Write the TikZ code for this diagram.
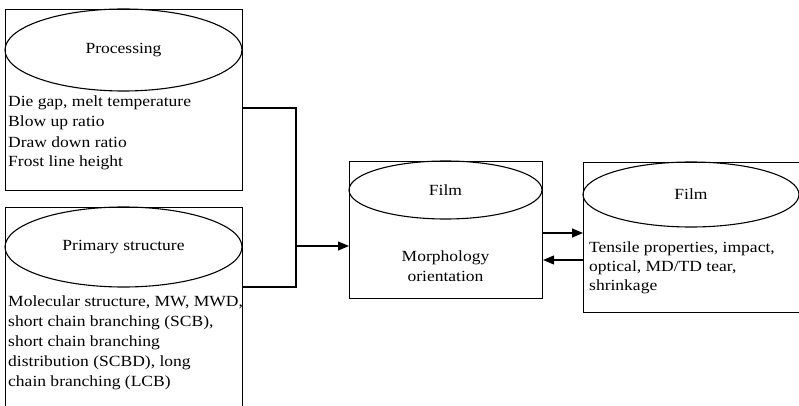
\documentclass[tikz,border=0pt]{standalone}
\usepackage{fontspec}
\setmainfont{Liberation Serif}
\newfontfamily\timesf[FakeStretch=1.13]{Liberation Serif}
\usetikzlibrary{arrows.meta,shapes.geometric}
\begin{document}
\begin{tikzpicture}[x=1pt,y=-1pt,
  box/.style={draw,line width=1.1pt,rectangle,inner sep=0pt,anchor=north west},
  ell/.style={draw,line width=1.1pt,ellipse,inner sep=0pt,anchor=center,font=\timesf\fontsize{15.5}{18}\selectfont},
  txt/.style={align=left,anchor=base west,inner sep=0pt,font=\timesf\fontsize{15.5}{20}\selectfont},
  conn/.style={line width=1.1pt},
  arr/.style={line width=1.1pt,-{Triangle[length=11pt,width=9pt]}}]
\clip (0,0) rectangle (799,406);
\fill[white] (0,0) rectangle (799,406);
% boxes
\node[box,minimum width=237pt,minimum height=181pt] (box1) at (5,9) {};
\node[box,minimum width=237pt,minimum height=230pt] (box2) at (5,207) {};
\node[box,minimum width=193pt,minimum height=137pt] (box3) at (349,161) {};
\node[box,minimum width=230pt,minimum height=150pt] (box4) at (583,162) {};
% ellipses
\node[ell,minimum width=237pt,minimum height=82pt] (e1) at (123.5,50) {Processing};
\node[ell,minimum width=237pt,minimum height=80pt] (e2) at (123.5,247) {Primary structure};
\node[ell,minimum width=193pt,minimum height=58pt] (e3) at (445.5,190) {Film};
\node[ell,minimum width=216pt,minimum height=65pt] (e4) at (691,194.5) {Film};
% texts (anchored at the baseline of the last line)
\node[txt] (t1) at (8,167) {Die gap, melt temperature\\Blow up ratio\\Draw down ratio\\Frost line height};
\node[txt] (t2) at (8,386) {Molecular structure, MW, MWD,\\short chain branching (SCB),\\short chain branching\\distribution (SCBD), long\\chain branching (LCB)};
\node[txt,align=center,anchor=base,font=\timesf\fontsize{15.5}{19.5}\selectfont] (t3) at (445.5,281) {Morphology\\orientation};
\node[txt,font=\timesf\fontsize{15.5}{19}\selectfont] (t4) at (589,290) {Tensile properties, impact,\\optical, MD/TD tear,\\shrinkage};
% connectors
\coordinate (c1) at (0,108);
\coordinate (c2) at (0,287);
\coordinate (jn) at (296,246);
\coordinate (ya) at (0,233);
\coordinate (yb) at (0,260);
\draw[conn] (box1.east |- c1) -| (jn);
\draw[conn] (box2.east |- c2) -| (jn);
\draw[arr] (jn) -- (box3.west |- jn);
\draw[arr] (box3.east |- ya) -- (box4.west |- ya);
\draw[arr] (box4.west |- yb) -- (box3.east |- yb);
\end{tikzpicture}
\end{document}
